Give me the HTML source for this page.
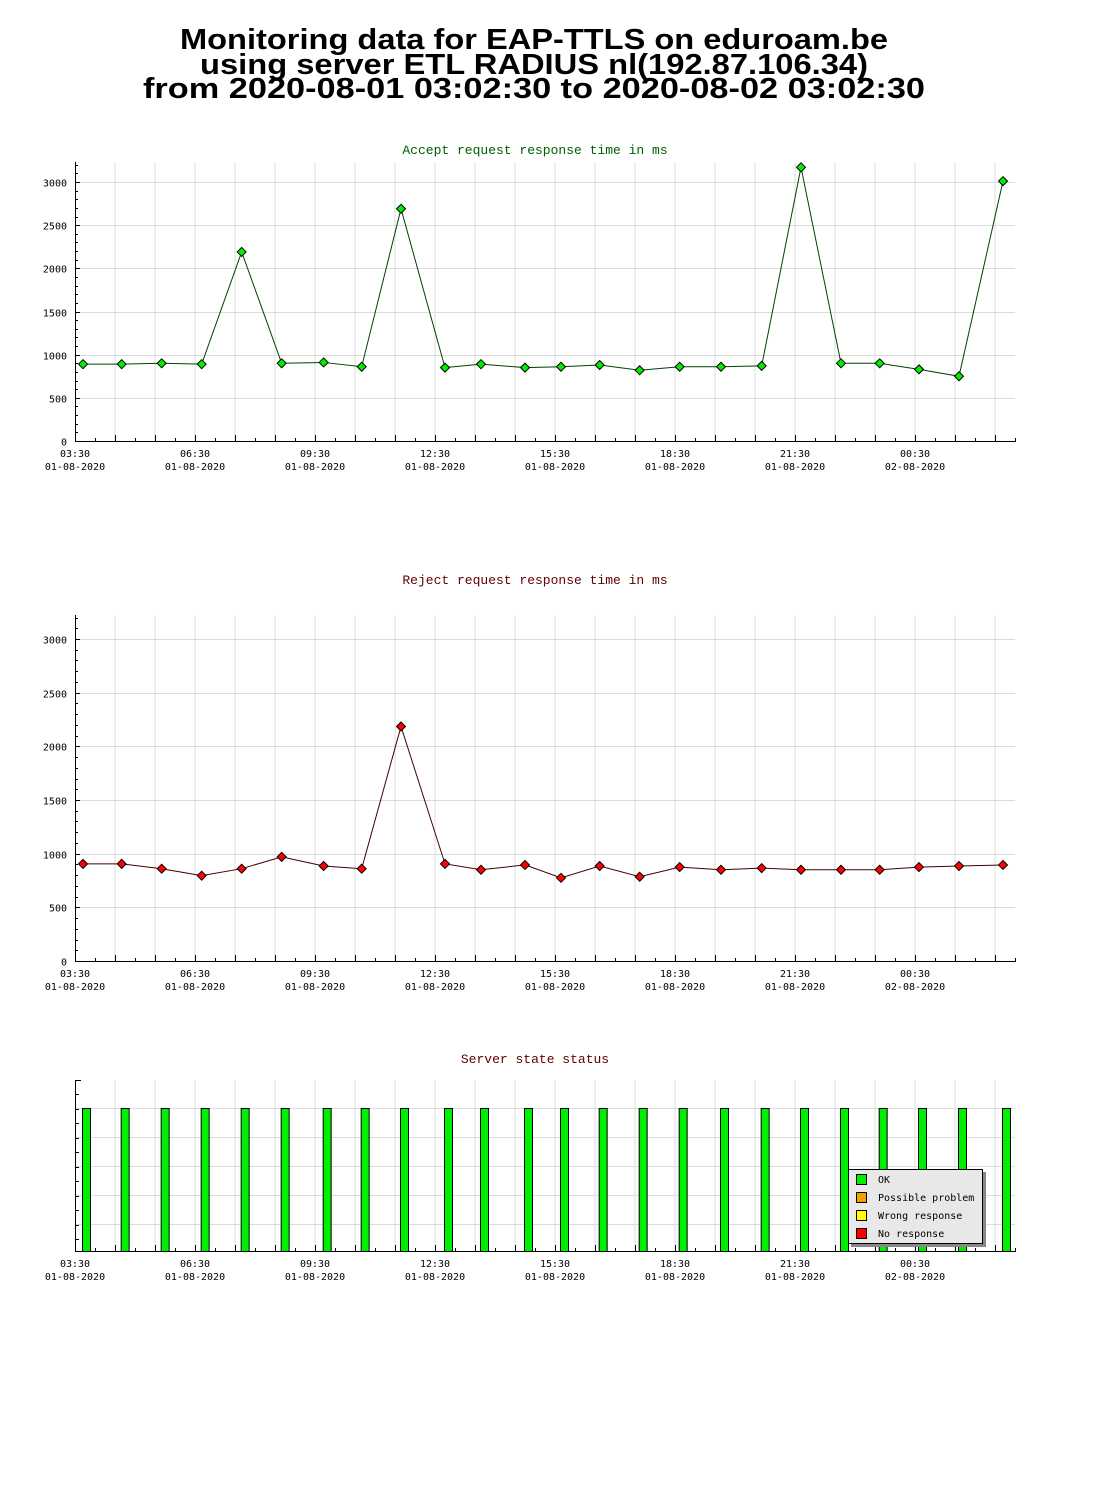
<!DOCTYPE html>
<html><head><meta charset="utf-8"><style>
html,body{margin:0;padding:0;background:#fff;}
svg{display:block;}
.tk{font-family:"DejaVu Sans Mono","Liberation Mono",monospace;font-size:10px;fill:#000;}
.ct{font-family:"Liberation Mono",monospace;font-size:13px;}
</style></head><body>
<svg id="root" width="1100" height="1500" viewBox="0 0 1100 1500" xmlns="http://www.w3.org/2000/svg">
<rect width="1100" height="1500" fill="#fff"/>
<g font-family="Liberation Sans, sans-serif" font-weight="bold" font-size="29" fill="#000">
<text x="180" y="49" textLength="708" lengthAdjust="spacingAndGlyphs">Monitoring data for EAP-TTLS on eduroam.be</text>
<text x="200" y="74" textLength="668" lengthAdjust="spacingAndGlyphs">using server ETL RADIUS nl(192.87.106.34)</text>
<text x="143" y="98" textLength="782" lengthAdjust="spacingAndGlyphs">from 2020-08-01 03:02:30 to 2020-08-02 03:02:30</text>
</g>
<text class="ct" x="535" y="154" text-anchor="middle" fill="#006000">Accept request response time in ms</text>
<text class="ct" x="535" y="584" text-anchor="middle" fill="#600000">Reject request response time in ms</text>
<text class="ct" x="535" y="1063" text-anchor="middle" fill="#600000">Server state status</text>
<g id="c1"></g>
<g id="c2"></g>
<g id="c3"></g>
</svg>
<script>
// minutes after 03:30 (01-08-2020) for each sample
const sampleMinutes = [12,70,130,190,250,310,373,430,489,555,609,675,729,787,847,907,969,1030,1089,1149,1207,1266,1326,1392];
const acceptValues = [890,890,900,890,2190,900,910,860,2690,850,890,850,860,880,820,860,860,870,3170,900,900,830,750,3010];
const rejectValues = [905,905,860,795,860,970,885,860,2185,905,850,895,775,885,785,875,850,865,850,850,850,875,885,895];
const statusValues = [1,1,1,1,1,1,1,1,1,1,1,1,1,1,1,1,1,1,1,1,1,1,1,1];
const xTickTimes = ["03:30","06:30","09:30","12:30","15:30","18:30","21:30","00:30"];
const xTickDates = ["01-08-2020","01-08-2020","01-08-2020","01-08-2020","01-08-2020","01-08-2020","01-08-2020","02-08-2020"];
const yTickValues = [0,500,1000,1500,2000,2500,3000];
const legendLabels = ["OK","Possible problem","Wrong response","No response"];
const legendColors = ["#00ee00","#f0a000","#ffff00","#ff0000"];

const NS="http://www.w3.org/2000/svg";
const X0=75, X1=1015;
function xScale(m){return X0+m/1.5;}
function mk(tag,attrs,parent){const e=document.createElementNS(NS,tag);for(const k in attrs)e.setAttribute(k,attrs[k]);parent.appendChild(e);return e;}

function drawFrame(g,top,bottom,yScale,ticks){
  // vertical grid
  for(let x=X0+40;x<=X1;x+=40){const l=mk('line',{x1:x,x2:x,y1:top,y2:bottom,stroke:'#dcdcdc'},g);
    
    }
  if(ticks){
    ticks.forEach(v=>{const y=Math.round(yScale(v))+0.5;
      if(v>0){const l=mk('line',{x1:X0,x2:X1,y1:y,y2:y,stroke:'#dcdcdc'},g);
        
        }
      const t=mk('text',{x:X0-8,y:y+4,'text-anchor':'end',class:'tk'},g);t.textContent=v;
      
      
      mk('line',{x1:X0,x2:X0+5,y1:y,y2:y,stroke:'#000'},g);
    });
    for(let v=100;yScale(v)>top;v+=100){const y=Math.round(yScale(v))+0.5;mk('line',{x1:X0,x2:X0+3,y1:y,y2:y,stroke:'#000'},g);}
  }
  mk('line',{x1:X0+0.5,x2:X0+0.5,y1:top,y2:bottom,stroke:'#000'},g);
  mk('line',{x1:X0,x2:X1+1,y1:bottom+0.5,y2:bottom+0.5,stroke:'#000'},g);
  for(let x=X0;x<=X1;x+=20){const big=((x-X0)%40===0);mk('line',{x1:x+0.5,x2:x+0.5,y1:bottom,y2:bottom-(big?6:3),stroke:'#000'},g);}
  xTickTimes.forEach((t,i)=>{const x=X0+i*120;
    const a=mk('text',{x:x,y:bottom+16,'text-anchor':'middle',class:'tk'},g);a.textContent=t;
    
    
    const b=mk('text',{x:x,y:bottom+29,'text-anchor':'middle',class:'tk'},g);b.textContent=xTickDates[i];
    
    });
}
function drawLine(g,vals,yScale,lineColor,fill,name){
  const pts=vals.map((v,i)=>[xScale(sampleMinutes[i]),yScale(v)]);
  const pl=mk('polyline',{points:pts.map(p=>p.join(',')).join(' '),fill:'none',stroke:lineColor,'stroke-width':1},g);
  
  
  pts.forEach(p=>{const d=mk('polygon',{points:`${p[0]},${p[1]-4.5} ${p[0]+4.5},${p[1]} ${p[0]},${p[1]+4.5} ${p[0]-4.5},${p[1]}`,fill:fill,stroke:'#000','stroke-width':1},g);
    
    });
}
// chart 1
const c1=document.getElementById('c1');
const y1=v=>441-v*0.08633;
drawFrame(c1,162,441,y1,yTickValues);
drawLine(c1,acceptValues,y1,'#004000','#00ee00','accept');
// chart 2
const c2=document.getElementById('c2');
const y2=v=>961-v*0.10733;
drawFrame(c2,615,961,y2,yTickValues);
drawLine(c2,rejectValues,y2,'#400000','#ff0000','reject');
// chart 3
const c3=document.getElementById('c3');
const y3=v=>1251-v*143;
for(let y=1108;y<1251;y+=29){const l=mk('line',{x1:X0,x2:X1,y1:y+0.5,y2:y+0.5,stroke:'#dcdcdc'},c3);
  
  }
drawFrame(c3,1080,1251,null,null);
mk('line',{x1:X0,x2:X0+6,y1:1080.5,y2:1080.5,stroke:'#000'},c3);
for(let y=1094;y<1251;y+=14.5){mk('line',{x1:X0,x2:X0+4,y1:Math.round(y)+0.5,y2:Math.round(y)+0.5,stroke:'#000'},c3);}
statusValues.forEach((v,i)=>{const x=xScale(sampleMinutes[i])-0.5;
  const r=mk('rect',{x:x,y:y3(v)+0.5,width:8,height:1251-y3(v),fill:'#00ee00',stroke:'#000','stroke-width':1},c3);
  
  });
const lg=mk('g',{},c3);


mk('rect',{x:851,y:1172,width:135,height:75,fill:'#888'},lg);
mk('rect',{x:848.5,y:1169.5,width:134,height:74,fill:'#e8e8e8',stroke:'#000'},lg);
legendLabels.forEach((l,i)=>{const y=1174+i*18;
  mk('rect',{x:856.5,y:y+0.5,width:10,height:10,fill:legendColors[i],stroke:'#000'},lg);
  const t=mk('text',{x:878,y:y+9,class:'tk'},lg);t.textContent=l;
  
  });
</script>
</body></html>
